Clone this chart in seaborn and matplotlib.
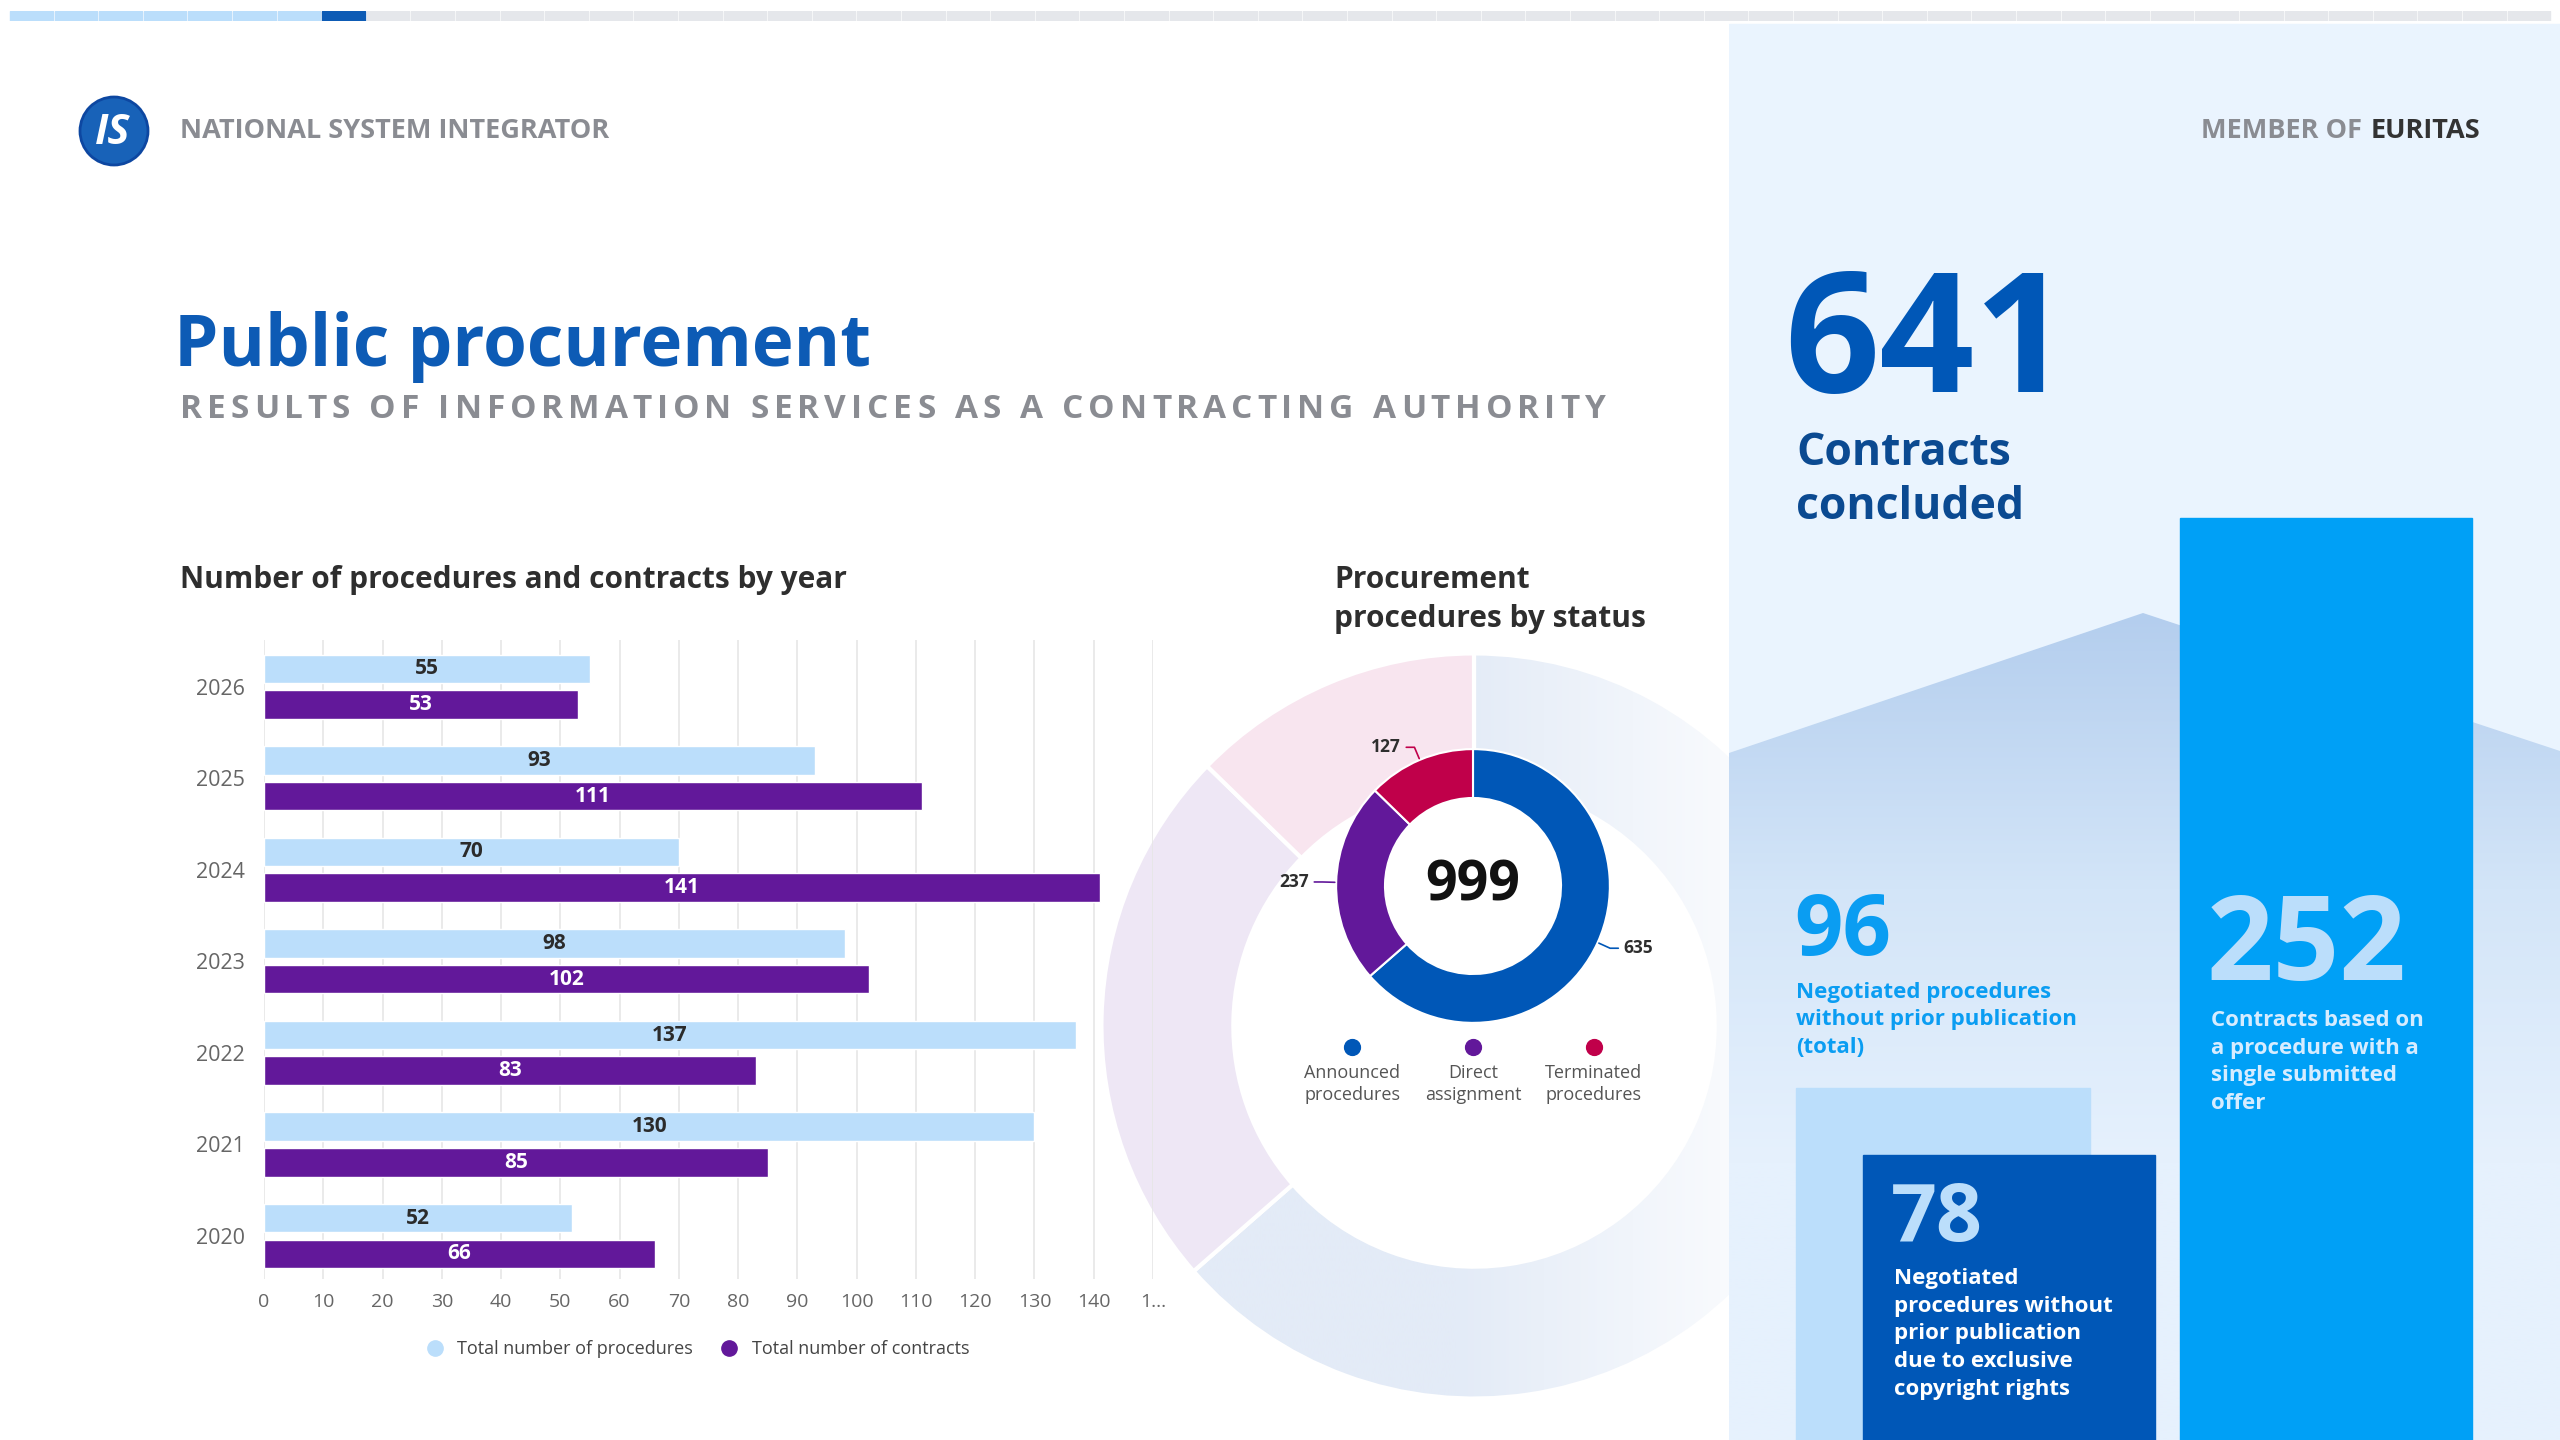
import matplotlib
matplotlib.use('Agg')
import matplotlib.pyplot as plt
import matplotlib.patches as mpatches
from matplotlib.lines import Line2D
from matplotlib.colors import LinearSegmentedColormap
import seaborn as sns
import pandas as pd
import numpy as np

# ---- data ----
years = ['2026', '2025', '2024', '2023', '2022', '2021', '2020']
procedures = [55, 93, 70, 98, 137, 130, 52]
contracts = [53, 111, 141, 102, 83, 85, 66]
series_names = ['Total number of procedures', 'Total number of contracts']
x_ticks = [0, 10, 20, 30, 40, 50, 60, 70, 80, 90, 100, 110, 120, 130, 140, 150]
x_tick_labels = ['0', '10', '20', '30', '40', '50', '60', '70', '80', '90',
                 '100', '110', '120', '130', '140', '1…']

status_names = ['Announced\nprocedures', 'Direct\nassignment', 'Terminated\nprocedures']
status_values = [635, 237, 127]
status_total = '999'

contracts_concluded = '641'
negotiated_total = '96'
negotiated_copyright = '78'
single_offer = '252'

# ---- colours ----
LIGHT = '#BBDEFB'
PURPLE = '#62189A'
NAVY = '#0057B7'
CRIMSON = '#C0004A'
SKY = '#00A0F6'
PANEL = '#EAF4FE'
GREY_TXT = '#8A8C92'
DARK_TXT = '#2E2E2E'
status_colors = [NAVY, PURPLE, CRIMSON]

sns.set_theme(style='white')
plt.rcParams['font.family'] = ['Open Sans', 'DejaVu Sans']

W, H = 2560, 1440
fig = plt.figure(figsize=(25.6, 14.4), dpi=100)
fig.patch.set_facecolor('white')
renderer = fig.canvas.get_renderer()


def px_axes(x0, y0, x1, y1):
    ax = fig.add_axes([x0 / W, 1 - y1 / H, (x1 - x0) / W, (y1 - y0) / H])
    ax.patch.set_alpha(0)
    return ax


def spaced_text(ax, x0, x1, y, s, **kw):
    arts = [ax.text(0, y, ch, **kw) for ch in s]
    fs = arts[0].get_fontsize() * 100 / 72
    widths = [fs * 0.28 if ch == ' ' else a.get_window_extent(renderer).width
              for ch, a in zip(s, arts)]
    gap = (x1 - x0 - sum(widths)) / (len(s) - 1)
    x = x0
    for a, w in zip(arts, widths):
        a.set_x(x)
        x += w + gap


def text_lines(ax, x, y0, pitch, lines, **kw):
    for i, ln in enumerate(lines):
        ax.text(x, y0 + i * pitch, ln, va='baseline', **kw)


# ---- background / left header ----
bg = px_axes(0, 0, W, H)
bg.set_xlim(0, W); bg.set_ylim(H, 0); bg.axis('off')
bg.add_patch(mpatches.Circle((114, 131), 34, fc='#1862B8', ec='#0D47A1', lw=2))
bg.text(113, 133, 'IS', color='white', fontsize=30, fontweight='bold',
        style='italic', ha='center', va='center')
bg.text(180, 131, 'NATIONAL SYSTEM INTEGRATOR', fontsize=19.5, fontweight='bold',
        color=GREY_TXT, va='center')
bg.text(174, 366, 'Public procurement', fontsize=51, fontweight='bold',
        color='#0D5BB5', va='baseline')
spaced_text(bg, 180, 1605, 410, 'RESULTS OF INFORMATION SERVICES AS A CONTRACTING AUTHORITY',
            fontsize=24, fontweight='bold', color=GREY_TXT, va='center')
bg.text(180, 580, 'Number of procedures and contracts by year', fontsize=21.5,
        fontweight='bold', color=DARK_TXT, va='center')
text_lines(bg, 1334, 588, 39, ['Procurement', 'procedures by status'],
           fontsize=21.5, fontweight='bold', color=DARK_TXT)

# ---- big faded ring behind the donut ----
axr = px_axes(1474 - 380, 1026 - 380, 1474 + 380, 1026 + 380)
rw, _ = axr.pie(status_values, colors=['none', '#EEE7F5', '#F8E5EF'], startangle=90,
                counterclock=False, radius=1,
                wedgeprops=dict(width=0.354, edgecolor='white', linewidth=3))
xs = np.linspace(-1, 1, 400)
gcmap = LinearSegmentedColormap.from_list('fade', ['#E3EBF7', '#FFFFFF'])
im = axr.imshow(np.clip((xs + 0.05) / 0.95, 0, 1)[None, :], extent=(-1, 1, -1, 1),
                cmap=gcmap, vmin=0, vmax=1, aspect='auto', zorder=0.5,
                interpolation='bilinear')
im.set_clip_path(rw[0])
axr.set_xlim(-1.02, 1.02); axr.set_ylim(-1.02, 1.02); axr.axis('off')

# ---- bar chart ----
df = pd.DataFrame({
    'year': years * 2,
    'value': procedures + contracts,
    'series': [series_names[0]] * len(years) + [series_names[1]] * len(years),
})
ax = px_axes(264, 640, 1153, 1279)
sns.barplot(data=df, x='value', y='year', hue='series', order=years,
            hue_order=series_names, palette=[LIGHT, PURPLE], orient='h',
            width=0.78, gap=0.2, saturation=1, legend=False, ax=ax)
ax.set_xlim(0, 150)
ax.set_ylim(6.47, -0.51)
ax.set_xticks(x_ticks)
ax.set_xticklabels(x_tick_labels)
ax.xaxis.grid(True, color='#E6E6E6', lw=1.2)
ax.yaxis.grid(False)
ax.set_axisbelow(True)
for s in ax.spines.values():
    s.set_visible(False)
ax.set_xlabel(''); ax.set_ylabel('')
ax.tick_params(axis='x', length=0, pad=10, labelsize=14, labelcolor='#666666')
ax.tick_params(axis='y', length=0, pad=14, labelsize=15.5, labelcolor='#666666')
ax.bar_label(ax.containers[0], label_type='center', fontsize=15,
             fontweight='bold', color='#2B2B2B')
ax.bar_label(ax.containers[1], label_type='center', fontsize=15,
             fontweight='bold', color='white')

handles = [Line2D([], [], marker='o', ls='none', ms=11, color=c) for c in [LIGHT, PURPLE]]
fig.legend(handles, series_names, loc='center', bbox_to_anchor=(693 / W, 1 - 1349 / H),
           ncol=2, frameon=False, fontsize=13, handletextpad=0.25,
           columnspacing=1.0, labelcolor='#444444')

# ---- donut ----
axd = px_axes(1473 - 219, 886 - 219, 1473 + 219, 886 + 219)
wedges, _ = axd.pie(status_values, colors=status_colors, startangle=90,
                    counterclock=False, radius=1,
                    wedgeprops=dict(width=0.357, edgecolor='white', linewidth=1.5))
for w, v, c in zip(wedges, status_values, status_colors):
    ang = np.deg2rad((w.theta1 + w.theta2) / 2)
    ca, sa = np.cos(ang), np.sin(ang)
    side = 1 if ca > 0 else -1
    x2, y2 = 1.1 * ca, 1.1 * sa
    axd.plot([1.01 * ca, x2, x2 + side * 0.06], [1.01 * sa, y2, y2], color=c, lw=1.2)
    axd.text(x2 + side * 0.1, y2, str(v), ha='left' if side > 0 else 'right',
             va='center', fontsize=12.5, fontweight='bold', color=DARK_TXT)
axd.text(0, 0, status_total, ha='center', va='center', fontsize=40,
         fontweight='bold', color='#111111')
for xx, name, c in zip([-0.883, 0, 0.883], status_names, status_colors):
    axd.scatter(xx, -1.175, s=130, color=c)
    axd.text(xx, -1.30, name, ha='center', va='top', fontsize=13,
             color='#555555', linespacing=1.3)
axd.set_xlim(-1.6, 1.6); axd.set_ylim(-1.6, 1.6); axd.set_aspect('equal'); axd.axis('off')

# ---- right panel ----
axp = px_axes(1729, 0, W, H)
axp.axis('off')
axp.add_patch(mpatches.Rectangle((1729, 24), W - 1729, H - 24, color=PANEL, zorder=0))
mountain = mpatches.Polygon([(1729, 753), (2143, 613), (2560, 751), (2560, 1440), (1729, 1440)],
                            closed=True, fc='none', ec='none', zorder=1)
axp.add_patch(mountain)
mcmap = LinearSegmentedColormap.from_list('m', ['#B4CEEE', '#D3E5F8', '#E6F1FD'])
mv = np.clip((np.linspace(613, 1440, 300) - 613) / 550, 0, 1)[:, None]
mim = axp.imshow(mv, extent=(1729, W, 1440, 613), cmap=mcmap, vmin=0, vmax=1,
                 aspect='auto', zorder=1, interpolation='bilinear')
mim.set_clip_path(mountain)
axp.add_patch(mpatches.Rectangle((1796, 1088), 294, 352, color=LIGHT, zorder=2))
axp.add_patch(mpatches.Rectangle((1863, 1155), 292, 285, color=NAVY, zorder=2))
axp.add_patch(mpatches.Rectangle((2180, 518), 292, 922, color=SKY, zorder=2))
axp.set_xlim(1729, W); axp.set_ylim(H, 0)

t2 = axp.text(2480, 131, 'EURITAS', ha='right', va='center', fontsize=19.5,
              fontweight='bold', color='#333333', zorder=3)
w2 = t2.get_window_extent(renderer).width
axp.text(2480 - w2 - 8, 131, 'MEMBER OF', ha='right', va='center', fontsize=19.5,
         fontweight='bold', color=GREY_TXT, zorder=3)

axp.text(1784, 392, contracts_concluded, fontsize=120, fontweight='bold',
         color=NAVY, va='baseline', zorder=3)
text_lines(axp, 1796, 465, 54, ['Contracts', 'concluded'], fontsize=32,
           fontweight='bold', color='#0B4A91', zorder=3)

axp.text(1794, 955, negotiated_total, fontsize=61, fontweight='bold',
         color='#0A9DF2', va='baseline', zorder=3)
text_lines(axp, 1796, 998, 27.5, ['Negotiated procedures', 'without prior publication', '(total)'],
           fontsize=16, fontweight='bold', color='#0A9DF2', zorder=3)

axp.text(2207, 980, single_offer, fontsize=84, fontweight='bold',
         color=LIGHT, va='baseline', zorder=3)
text_lines(axp, 2211, 1026, 27.7, ['Contracts based on', 'a procedure with a',
                                   'single submitted', 'offer'],
           fontsize=16, fontweight='bold', color='#D6ECFF', zorder=3)

axp.text(1891, 1241, negotiated_copyright, fontsize=58, fontweight='bold',
         color=LIGHT, va='baseline', zorder=3)
text_lines(axp, 1894, 1284, 27.7, ['Negotiated', 'procedures without', 'prior publication',
                                   'due to exclusive', 'copyright rights'],
           fontsize=16, fontweight='bold', color='white', zorder=3)

# ---- progress strip at the very top ----
axt = px_axes(0, 11, W, 21)
axt.set_xlim(0, W); axt.set_ylim(0, 1); axt.axis('off')
for i in range(57):
    col = LIGHT if i < 7 else ('#0D5BB5' if i == 7 else '#E5E7EB')
    axt.add_patch(mpatches.Rectangle((10 + i * 44.6, 0), 42.6, 1, color=col))

fig.savefig('out.png', dpi=100)
